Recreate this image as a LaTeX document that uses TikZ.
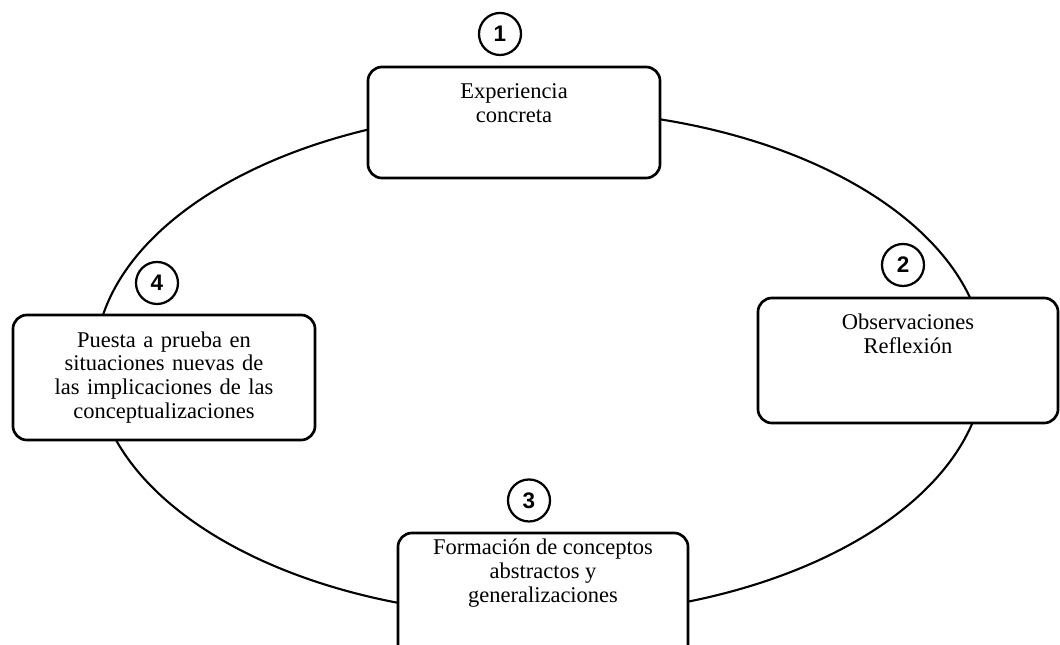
\documentclass[tikz,border=0pt]{standalone}
\usepackage{fontspec}
\setmainfont{Liberation Serif}
\newfontfamily\numfont{Liberation Sans}
\usetikzlibrary{positioning}

\newcommand{\boxtext}[4]{\begin{minipage}[c][#2][t]{#1}\centering\vspace*{#3}#4\end{minipage}}

\begin{document}
\begin{tikzpicture}[x=0.025cm,y=-0.025cm,on grid,
    stage/.style={draw,line width=1.9pt,rounded corners=0.35cm,fill=white,inner sep=0pt,
      font=\fontsize{16}{17}\selectfont},
    num/.style={draw,circle,line width=1.6pt,minimum size=1.05cm,inner sep=0pt,fill=white,
      font=\numfont\bfseries\fontsize{16}{18}\selectfont}]
    \useasboundingbox (0,0) rectangle (1060,645);
    \coordinate (c) at (540,363);
    \draw[line width=1.5pt] (c) ellipse [x radius=445,y radius=253];
    \node[stage] (e1) at (514,122.5) {\boxtext{7.3cm}{2.775cm}{12pt}{Experiencia\\concreta}};
    \node[stage] (e2) at (908,360.5) {\boxtext{7.5cm}{3.125cm}{11.5pt}{Observaciones\\Reflexión}};
    \node[stage] (e3) at (543,596.5) {\boxtext{7.25cm}{3.175cm}{4.5pt}{Formación de conceptos\\abstractos y\\generalizaciones}};
    \node[stage,text width=7.55cm,minimum height=3.125cm,align=center] (e4) at (164,377.5)
        {Puesta a prueba en\\situaciones nuevas de\\las implicaciones de las\\conceptualizaciones};
    \node[num] (n1) [above=2.2125cm of e1,xshift=-0.35cm]  {1};
    \node[num] (n2) [above=2.3875cm of e2,xshift=-0.125cm] {2};
    \node[num] (n3) [above=2.4cm of e3,xshift=-0.35cm]     {3};
    \node[num] (n4) [above=2.3625cm of e4,xshift=-0.175cm] {4};
\end{tikzpicture}
\end{document}
